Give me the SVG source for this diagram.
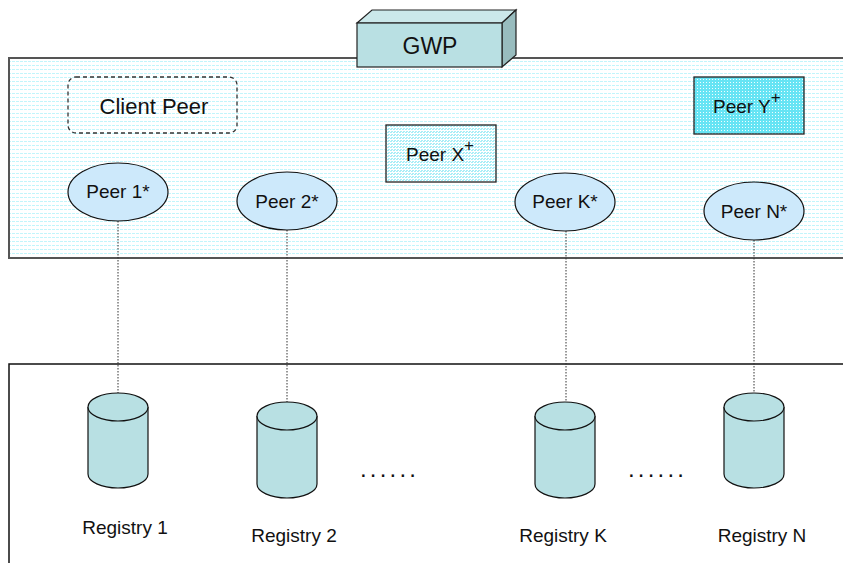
<svg xmlns="http://www.w3.org/2000/svg" width="843" height="563" viewBox="0 0 843 563">
<defs>
<pattern id="hlines" width="4" height="4" patternUnits="userSpaceOnUse">
<rect width="4" height="4" fill="#ffffff"/>
<rect x="0" y="1" width="3" height="1" fill="#c2f5fb"/>
</pattern>
<pattern id="dots" width="3" height="3" patternUnits="userSpaceOnUse">
<rect width="3" height="3" fill="#ffffff"/>
<rect x="0" y="0" width="2" height="1" fill="#a8eef7"/>
<rect x="1" y="2" width="2" height="1" fill="#a8eef7"/>
</pattern>
<pattern id="cyan" width="3" height="3" patternUnits="userSpaceOnUse">
<rect width="3" height="3" fill="#66e4f4"/>
<rect x="1" y="1" width="1" height="1" fill="#f0fdfe"/>
</pattern>
<style>
text{font-family:"Liberation Sans",Arial,sans-serif;fill:#111;}
.peer{fill:#cde9fb;stroke:#111;stroke-width:1.2;}
.cyl{fill:#b8e0e3;stroke:#111;stroke-width:1.2;}
.link{stroke:#333;stroke-width:1;stroke-dasharray:1.5 1.5;fill:none;}
.lbl{font-size:19px;}
</style>
</defs>
<g id="top-panel">
<rect x="9" y="58" width="850" height="200" fill="url(#hlines)" stroke="#555" stroke-width="2"/>
</g>
<g id="bottom-panel">
<rect x="9" y="364" width="850" height="220" fill="#ffffff" stroke="#111" stroke-width="1.5"/>
</g>
<g id="gwp">
<polygon points="357,23 372,10 516,10 502,23" fill="#cbe8ea" stroke="#222" stroke-width="1.2"/>
<polygon points="502,23 516,10 516,55 502,67" fill="#98bcbe" stroke="#222" stroke-width="1.2"/>
<rect x="357" y="23" width="145" height="44" fill="#b9e0e3" stroke="#222" stroke-width="1.2"/>
<text x="430" y="54" font-size="23" text-anchor="middle">GWP</text>
</g>
<g id="client-peer">
<rect x="68" y="77" width="169" height="56" rx="8" fill="none" stroke="#333" stroke-width="1.3" stroke-dasharray="4 3"/>
<text x="154" y="114" font-size="22" text-anchor="middle">Client Peer</text>
</g>
<g id="peer-x">
<rect x="386" y="125" width="110" height="57" fill="url(#dots)" stroke="#222" stroke-width="1.3"/>
<text x="406" y="161" class="lbl">Peer X<tspan dy="-10" font-size="17">+</tspan></text>
</g>
<g id="peer-y">
<rect x="694" y="77" width="110" height="57" fill="url(#cyan)" stroke="#222" stroke-width="1.3"/>
<text x="713" y="113" class="lbl">Peer Y<tspan dy="-10" font-size="17">+</tspan></text>
</g>
<g id="connectors">
<line class="link" x1="118" y1="221" x2="118" y2="393"/>
<line class="link" x1="287" y1="230" x2="287" y2="402"/>
<line class="link" x1="566" y1="231" x2="566" y2="402"/>
<line class="link" x1="754" y1="240" x2="754" y2="393"/>
</g>
<g id="peer-1">
<ellipse class="peer" cx="118" cy="192" rx="50" ry="29"/>
<text x="118" y="198" class="lbl" text-anchor="middle">Peer 1*</text>
</g>
<g id="peer-2">
<ellipse class="peer" cx="287" cy="201" rx="50" ry="29"/>
<text x="287" y="208" class="lbl" text-anchor="middle">Peer 2*</text>
</g>
<g id="peer-k">
<ellipse class="peer" cx="565" cy="202" rx="50" ry="29"/>
<text x="565" y="208" class="lbl" text-anchor="middle">Peer K*</text>
</g>
<g id="peer-n">
<ellipse class="peer" cx="754" cy="211" rx="50" ry="29"/>
<text x="754" y="218" class="lbl" text-anchor="middle">Peer N*</text>
</g>
<g id="registry-1">
<path class="cyl" d="M88,407 V474 A30,14 0 0 0 148,474 V407"/>
<ellipse class="cyl" cx="118" cy="407" rx="30" ry="14"/>
<text x="125" y="534" class="lbl" text-anchor="middle">Registry 1</text>
</g>
<g id="registry-2">
<path class="cyl" d="M257,416 V484 A30,14 0 0 0 317,484 V416"/>
<ellipse class="cyl" cx="287" cy="416" rx="30" ry="14"/>
<text x="294" y="542" class="lbl" text-anchor="middle">Registry 2</text>
</g>
<g id="registry-k">
<path class="cyl" d="M535,416 V484 A30,14 0 0 0 595,484 V416"/>
<ellipse class="cyl" cx="565" cy="416" rx="30" ry="14"/>
<text x="563" y="542" class="lbl" text-anchor="middle">Registry K</text>
</g>
<g id="registry-n">
<path class="cyl" d="M724,407 V474 A30,14 0 0 0 784,474 V407"/>
<ellipse class="cyl" cx="754" cy="407" rx="30" ry="14"/>
<text x="762" y="542" class="lbl" text-anchor="middle">Registry N</text>
</g>
<g id="ellipsis-1">
<text x="360" y="477" font-size="24" letter-spacing="3.2">......</text>
</g>
<g id="ellipsis-2">
<text x="628" y="477" font-size="24" letter-spacing="3.2">......</text>
</g>
</svg>
